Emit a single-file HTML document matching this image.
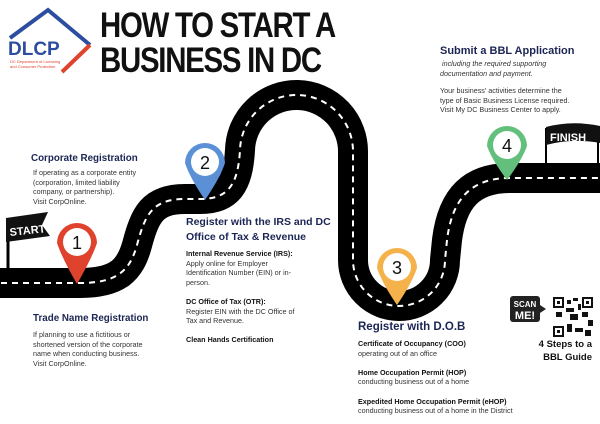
<!DOCTYPE html>
<html><head><meta charset="utf-8"><style>
body{margin:0;width:600px;height:424px;background:#fff;overflow:hidden;position:relative;font-family:"Liberation Sans",sans-serif;color:#1b2553}
.t{position:absolute;white-space:nowrap}
.h{font-weight:bold;color:#1b2553}
.b{font-size:7.2px;line-height:9.6px;color:#333}
.b b{color:#111}
</style></head><body>
<svg width="600" height="424" style="position:absolute;left:0;top:0">
<g fill="none">
<path d="M-10,283 L80,283 C118,283 130,270 137,245 C145,215 152,199 185,199 L200,199 C228,199 238,185 240,150 A56,56 0 0 1 353,153 L353,260 A46,46 0 0 0 445,260 L447,240 C452,200 470,178 510,178 L610,178" stroke="#000" stroke-width="30"/>
<path d="M-10,283 L80,283 C118,283 130,270 137,245 C145,215 152,199 185,199 L200,199 C228,199 238,185 240,150 A56,56 0 0 1 353,153 L353,260 A46,46 0 0 0 445,260 L447,240 C452,200 470,178 510,178 L610,178" stroke="#fff" stroke-width="2" stroke-dasharray="6,5"/>
</g>
<!-- START flag -->
<line x1="8" y1="222" x2="8" y2="270" stroke="#000" stroke-width="3"/>
<path d="M6,218 L48,212 L42,225 L50,236 L6,242 Z" fill="#111"/>
<text x="10" y="236" font-family="Liberation Sans" font-weight="bold" font-size="11" fill="#fff" transform="rotate(-6 10 236)">START</text>
<!-- FINISH flag -->
<line x1="546" y1="128" x2="546" y2="165" stroke="#000" stroke-width="2"/>
<line x1="598" y1="128" x2="598" y2="165" stroke="#000" stroke-width="2"/>
<path d="M546,127 Q572,120 600,126 L600,143 Q572,138 546,145 Z" fill="#111"/>
<text x="550" y="141" font-family="Liberation Sans" font-weight="bold" font-size="11" fill="#fff">FINISH</text>
<!-- pins -->
<g>
<path d="M57,243 A20,20 0 1 1 97,243 Q92,258 77,284 Q62,258 57,243Z" fill="#e0432d"/><circle cx="77" cy="242" r="14" fill="#fff"/>
<text x="77" y="249" text-anchor="middle" font-size="18" font-family="Liberation Sans" fill="#111">1</text>
<path d="M185,163 A20,20 0 1 1 225,163 Q220,178 205,200 Q190,178 185,163Z" fill="#5b8fd6"/><circle cx="205" cy="162" r="14" fill="#fff"/>
<text x="205" y="169" text-anchor="middle" font-size="18" font-family="Liberation Sans" fill="#111">2</text>
<path d="M377,268 A20,20 0 1 1 417,268 Q412,283 397,305 Q382,283 377,268Z" fill="#f5b24a"/><circle cx="397" cy="267" r="14" fill="#fff"/>
<text x="397" y="274" text-anchor="middle" font-size="18" font-family="Liberation Sans" fill="#111">3</text>
<path d="M487,146 A20,20 0 1 1 527,146 Q522,160 507,180 Q492,160 487,146Z" fill="#62c07c"/><circle cx="507" cy="145" r="14" fill="#fff"/>
<text x="507" y="152" text-anchor="middle" font-size="18" font-family="Liberation Sans" fill="#111">4</text>
</g>
<!-- logo -->
<path d="M10,38 L48,10 L90,45" fill="none" stroke="#2c4da0" stroke-width="4"/>
<path d="M90,45 L62,72" fill="none" stroke="#e0432d" stroke-width="4"/>
<text x="8" y="55" font-family="Liberation Sans" font-weight="bold" font-size="19" fill="#2c4da0">DLCP</text>
<text x="10" y="63" font-family="Liberation Sans" font-size="4" fill="#e0432d">DC Department of Licensing</text>
<text x="10" y="68" font-family="Liberation Sans" font-size="4" fill="#e0432d">and Consumer Protection</text>
<!-- scan me -->
<rect x="510" y="296" width="30" height="26" rx="3" fill="#222"/>
<path d="M540,305 L546,309 L540,313Z" fill="#222"/>
<text x="525" y="307" text-anchor="middle" font-size="8" font-weight="bold" fill="#fff" font-family="Liberation Sans">SCAN</text>
<text x="525" y="319" text-anchor="middle" font-size="11" font-weight="bold" fill="#fff" font-family="Liberation Sans">ME!</text>
<rect x="553" y="297" width="40" height="40" fill="#fff"/>
<g fill="#111">
<rect x="553" y="297" width="11" height="11"/><rect x="582" y="297" width="11" height="11"/><rect x="553" y="326" width="11" height="11"/>
<rect x="567" y="300" width="4" height="4"/><rect x="573" y="298" width="5" height="3"/><rect x="566" y="308" width="8" height="4"/>
<rect x="556" y="312" width="6" height="5"/><rect x="570" y="314" width="8" height="6"/><rect x="582" y="312" width="6" height="5"/>
<rect x="588" y="320" width="5" height="6"/><rect x="567" y="324" width="5" height="8"/><rect x="575" y="328" width="8" height="4"/>
<rect x="585" y="330" width="6" height="6"/><rect x="578" y="304" width="3" height="6"/>
</g>
<g fill="#fff"><rect x="555" y="299" width="7" height="7"/><rect x="584" y="299" width="7" height="7"/><rect x="555" y="328" width="7" height="7"/></g>
<g fill="#111"><rect x="557" y="301" width="3" height="3"/><rect x="586" y="301" width="3" height="3"/><rect x="557" y="330" width="3" height="3"/></g>
</svg>

<div class="t" style="left:100px;top:8px;font-size:35px;font-weight:bold;color:#111;line-height:35px;letter-spacing:-1.5px;transform:scaleX(0.84);transform-origin:left">HOW TO START A<br>BUSINESS IN DC</div>

<div class="t h" style="left:31px;top:153px;font-size:9.8px">Corporate Registration</div>
<div class="t b" style="left:33px;top:168px">If operating as a corporate entity<br>(corporation, limited liability<br>company, or partnership).<br>Visit CorpOnline.</div>

<div class="t h" style="left:33px;top:313px;font-size:9.8px">Trade Name Registration</div>
<div class="t b" style="left:33px;top:330px">If planning to use a fictitious or<br>shortened version of the corporate<br>name when conducting business.<br>Visit CorpOnline.</div>

<div class="t h" style="left:186px;top:215px;font-size:10.5px;line-height:15px">Register with the IRS and DC<br>Office of Tax &amp; Revenue</div>
<div class="t b" style="left:186px;top:249px"><b>Internal Revenue Service (IRS):</b><br>Apply online for Employer<br>Identification Number (EIN) or in-<br>person.<br><br><b>DC Office of Tax (OTR):</b><br>Register EIN with the DC Office of<br>Tax and Revenue.<br><br><b>Clean Hands Certification</b></div>

<div class="t h" style="left:440px;top:45px;font-size:11px">Submit a BBL Application</div>
<div class="t b" style="left:440px;top:59px;font-style:italic">&nbsp;including the required supporting<br>documentation and payment.</div>
<div class="t b" style="left:440px;top:86px">Your business' activities determine the<br>type of Basic Business License required.<br>Visit My DC Business Center to apply.</div>

<div class="t h" style="left:358px;top:321px;font-size:11.5px">Register with D.O.B</div>
<div class="t b" style="left:358px;top:339px"><b>Certificate of Occupancy (COO)</b><br>operating out of an office<br><br><b>Home Occupation Permit (HOP)</b><br>conducting business out of a home<br><br><b>Expedited Home Occupation Permit (eHOP)</b><br>conducting business out of a home in the District</div>

<div class="t" style="left:530px;top:338px;font-size:9.5px;font-weight:bold;color:#111;text-align:right;line-height:13px;width:62px">4 Steps to a<br>BBL Guide</div>
</body></html>
